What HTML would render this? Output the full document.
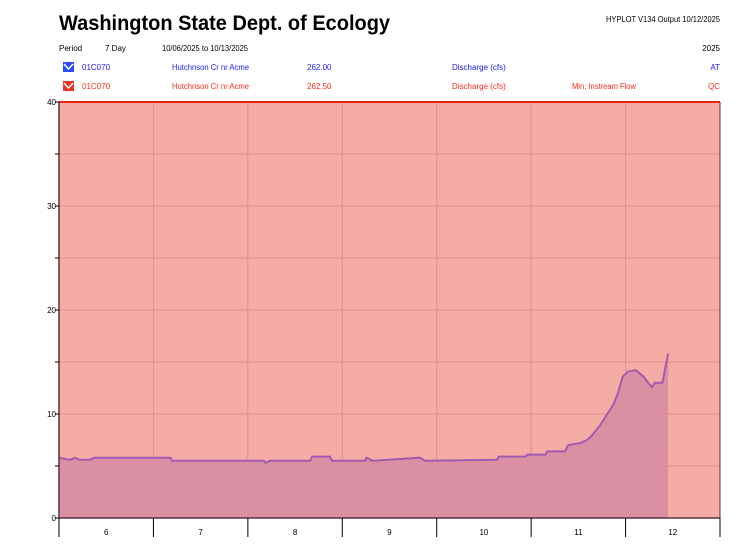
<!DOCTYPE html>
<html><head><meta charset="utf-8"><style>
body{margin:0;background:#fff;width:740px;height:555px;overflow:hidden;font-family:"Liberation Sans",sans-serif}
svg{display:block}
</style></head><body>
<svg width="740" height="555" font-family="Liberation Sans, sans-serif">
<text x="59" y="30" font-size="21" font-weight="bold" fill="#000" textLength="331" lengthAdjust="spacingAndGlyphs">Washington State Dept. of Ecology</text>
<text x="720" y="22" font-size="8" text-anchor="end" fill="#000" textLength="114" lengthAdjust="spacingAndGlyphs">HYPLOT V134  Output 10/12/2025</text>
<text x="59" y="51" font-size="8">Period</text>
<text x="105" y="51" font-size="8">7 Day</text>
<text x="162" y="51" font-size="8" textLength="86" lengthAdjust="spacingAndGlyphs">10/06/2025  to  10/13/2025</text>
<text x="720" y="51" font-size="8" text-anchor="end">2025</text>
<g font-size="8" fill="#1a1aff">
<rect x="63" y="62" width="11" height="10" fill="#2a4cff"/><path d="M64 64 L68.5 69 L73 64" stroke="#fff" stroke-width="1.5" fill="none"/>
<text x="82" y="70">01C070</text><text x="172" y="70" textLength="77" lengthAdjust="spacingAndGlyphs">Hutchnson Cr nr Acme</text><text x="307" y="70">262.00</text><text x="452" y="70">Discharge (cfs)</text><text x="720" y="70" text-anchor="end">AT</text></g>
<g font-size="8" fill="#ff2a1a">
<rect x="63" y="81" width="11" height="10" fill="#ee3322"/><path d="M64 83 L68.5 88 L73 83" stroke="#fff" stroke-width="1.5" fill="none"/>
<text x="82" y="89">01C070</text><text x="172" y="89" textLength="77" lengthAdjust="spacingAndGlyphs">Hutchnson Cr nr Acme</text><text x="307" y="89">262.50</text><text x="452" y="89">Discharge (cfs)</text><text x="572" y="89" textLength="64" lengthAdjust="spacingAndGlyphs">Min. Instream Flow</text><text x="720" y="89" text-anchor="end">QC</text></g>
<g id="plot"></g>
</svg>
<script>
const days=[6,7,8,9,10,11,12];
const yTicks=[0,10,20,30,40];
const minFlow=40;
const times=[6.00,6.12,6.17,6.22,6.33,6.37,7.18,7.20,8.17,8.19,8.23,8.66,8.68,8.87,8.89,9.24,9.26,9.32,9.82,9.88,10.64,10.66,10.94,10.96,11.15,11.17,11.36,11.39,11.52,11.59,11.63,11.73,11.87,11.92,11.97,12.03,12.11,12.19,12.24,12.28,12.31,12.39,12.45];
const flows=[5.8,5.6,5.8,5.6,5.6,5.8,5.8,5.5,5.5,5.3,5.5,5.5,5.9,5.9,5.5,5.5,5.8,5.5,5.8,5.5,5.6,5.9,5.9,6.1,6.1,6.4,6.4,7.0,7.2,7.5,7.8,8.9,10.9,12.0,13.6,14.1,14.2,13.6,13.0,12.6,13.0,13.0,15.8];
const X0=59,X1=720,Y0=518,Y1=102;
const xs=t=>X0+(t-6)*(X1-X0)/7;
const ys=v=>Y0-v*(Y0-Y1)/40;
const NS='http://www.w3.org/2000/svg';
const g=document.getElementById('plot');
function mk(tag,at){const e=document.createElementNS(NS,tag);for(const k in at)e.setAttribute(k,at[k]);g.appendChild(e);return e;}
let e=mk('rect',{x:X0,y:ys(minFlow),width:X1-X0,height:Y0-ys(minFlow),fill:'#f5aca5'});


for(let v=5;v<40;v+=5){e=mk('line',{x1:X0,x2:X1,y1:ys(v),y2:ys(v),stroke:'#e0918b','stroke-width':1});

}
for(let i=1;i<7;i++){e=mk('line',{x1:xs(6+i),x2:xs(6+i),y1:Y1,y2:Y0,stroke:'#e0918b','stroke-width':1});

}
let pts=times.map((t,i)=>xs(t).toFixed(1)+','+ys(flows[i]).toFixed(1));
e=mk('polygon',{points:xs(times[0])+','+Y0+' '+pts.join(' ')+' '+xs(times[times.length-1])+','+Y0,fill:'#da8fa2'});


e=mk('polyline',{points:pts.join(' '),fill:'none',stroke:'#a35ab0','stroke-width':2});


e=mk('line',{x1:X0,x2:X1,y1:ys(minFlow),y2:ys(minFlow),stroke:'#e8231a','stroke-width':2});


e=mk('line',{x1:X0,x2:X0,y1:Y1,y2:Y0,stroke:'#5a3040','stroke-width':1.5});


e=mk('line',{x1:X1,x2:X1,y1:Y1,y2:Y0+19,stroke:'#5a3040','stroke-width':1});


e=mk('line',{x1:X0,x2:X1,y1:Y0,y2:Y0,stroke:'#5a3040','stroke-width':1.5});


for(let v=0;v<=40;v+=5){e=mk('line',{x1:X0-4,x2:X0,y1:ys(v),y2:ys(v),stroke:'#000'});

}
yTicks.forEach(v=>{e=mk('text',{x:X0-3,y:ys(v)+3,'font-size':8,'text-anchor':'end'});e.textContent=v;

});
for(let i=0;i<=7;i++){e=mk('line',{x1:xs(6+i),x2:xs(6+i),y1:Y0,y2:Y0+19,stroke:'#000'});

}
days.forEach(d=>{e=mk('text',{x:xs(d+0.5),y:Y0+17,'font-size':8,'text-anchor':'middle'});e.textContent=d;

});
</script>
</body></html>
